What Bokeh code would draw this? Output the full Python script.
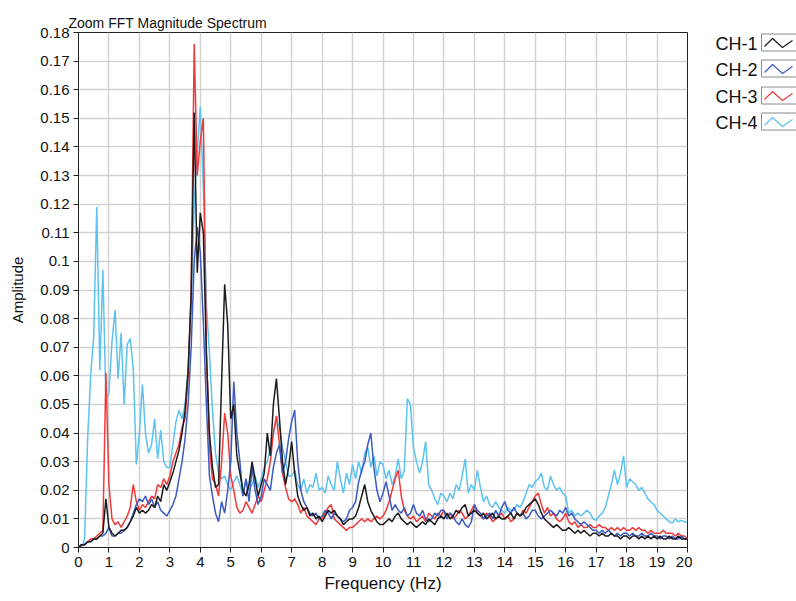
from bokeh.plotting import figure
from bokeh.models import FixedTicker, Range1d
from bokeh.layouts import row
from bokeh.core.properties import value
from bokeh.embed import file_html
from bokeh.resources import INLINE

# ---------------- data ----------------
freq = [round(i * 0.1, 1) for i in range(201)]  # Hz grid, 0.0 .. 20.0

ch1 = [
    0.000, 0.001, 0.001, 0.002, 0.002, 0.003, 0.003, 0.004, 0.005, 0.017,
    0.007, 0.005, 0.004, 0.005, 0.006, 0.006, 0.007, 0.009, 0.011, 0.014,
    0.012, 0.013, 0.012, 0.013, 0.015, 0.014, 0.018, 0.016, 0.022, 0.020,
    0.023, 0.026, 0.030, 0.034, 0.040, 0.048, 0.062, 0.088, 0.152, 0.096,
    0.117, 0.110, 0.068, 0.040, 0.028, 0.021, 0.022, 0.058, 0.092, 0.078,
    0.045, 0.050, 0.032, 0.026, 0.020, 0.018, 0.022, 0.030, 0.024, 0.018,
    0.022, 0.026, 0.040, 0.032, 0.050, 0.059, 0.045, 0.030, 0.022, 0.028,
    0.037, 0.026, 0.018, 0.015, 0.013, 0.014, 0.011, 0.012, 0.010, 0.011,
    0.009, 0.011, 0.013, 0.012, 0.013, 0.011, 0.010, 0.008, 0.009, 0.010,
    0.010, 0.011, 0.014, 0.018, 0.022, 0.016, 0.013, 0.011, 0.009, 0.008,
    0.008, 0.009, 0.010, 0.009, 0.011, 0.012, 0.010, 0.009, 0.008, 0.009,
    0.008, 0.007, 0.008, 0.009, 0.008, 0.010, 0.009, 0.008, 0.010, 0.011,
    0.010, 0.012, 0.010, 0.011, 0.013, 0.012, 0.014, 0.015, 0.011, 0.012,
    0.013, 0.012, 0.011, 0.012, 0.010, 0.011, 0.012, 0.010, 0.011, 0.010,
    0.010, 0.011, 0.012, 0.010, 0.012, 0.011, 0.012, 0.014, 0.015, 0.016,
    0.017, 0.015, 0.012, 0.010, 0.009, 0.008, 0.007, 0.008, 0.007, 0.006,
    0.006, 0.007, 0.006, 0.005, 0.006, 0.005, 0.006, 0.005, 0.004, 0.005,
    0.005, 0.004, 0.005, 0.004, 0.004, 0.005, 0.004, 0.004, 0.003, 0.004,
    0.004, 0.003, 0.004, 0.004, 0.003, 0.004, 0.003, 0.004, 0.003, 0.004,
    0.003, 0.004, 0.003, 0.003, 0.004, 0.003, 0.003, 0.004, 0.003, 0.003,
    0.003,
]

ch2 = [
    0.000, 0.001, 0.001, 0.002, 0.002, 0.003, 0.003, 0.004, 0.004, 0.005,
    0.007, 0.004, 0.004, 0.005, 0.005, 0.006, 0.007, 0.009, 0.012, 0.015,
    0.017, 0.016, 0.018, 0.015, 0.017, 0.014, 0.016, 0.013, 0.012, 0.011,
    0.013, 0.015, 0.018, 0.024, 0.030, 0.038, 0.050, 0.070, 0.100, 0.112,
    0.103, 0.079, 0.050, 0.025, 0.018, 0.012, 0.009, 0.016, 0.012, 0.020,
    0.030, 0.058, 0.040, 0.030, 0.018, 0.024, 0.016, 0.028, 0.020, 0.015,
    0.018, 0.024, 0.022, 0.020, 0.028, 0.033, 0.036, 0.026, 0.030, 0.038,
    0.044, 0.048, 0.030, 0.020, 0.016, 0.014, 0.012, 0.011, 0.012, 0.010,
    0.011, 0.013, 0.012, 0.010, 0.012, 0.011, 0.010, 0.009, 0.010, 0.013,
    0.014, 0.016, 0.023, 0.027, 0.030, 0.036, 0.040, 0.028, 0.020, 0.016,
    0.019, 0.023, 0.018, 0.013, 0.015, 0.013, 0.012, 0.014, 0.011, 0.012,
    0.015, 0.012, 0.011, 0.013, 0.010, 0.009, 0.010, 0.012, 0.011, 0.013,
    0.013, 0.010, 0.012, 0.011, 0.009, 0.008, 0.010, 0.008, 0.007, 0.009,
    0.015, 0.013, 0.012, 0.010, 0.011, 0.012, 0.010, 0.013, 0.011, 0.014,
    0.016, 0.013, 0.012, 0.014, 0.012, 0.011, 0.012, 0.010, 0.011, 0.013,
    0.013, 0.011, 0.010, 0.011, 0.012, 0.013, 0.012, 0.011, 0.013, 0.012,
    0.014, 0.011, 0.012, 0.010, 0.009, 0.008, 0.009, 0.008, 0.007, 0.006,
    0.006, 0.005, 0.006, 0.005, 0.006, 0.005, 0.004, 0.005, 0.004, 0.005,
    0.005, 0.004, 0.005, 0.004, 0.004, 0.005, 0.004, 0.004, 0.005, 0.004,
    0.004, 0.003, 0.004, 0.004, 0.003, 0.004, 0.003, 0.003, 0.004, 0.003,
    0.003,
]

ch3 = [
    0.000, 0.001, 0.001, 0.002, 0.003, 0.003, 0.004, 0.005, 0.006, 0.061,
    0.022, 0.010, 0.008, 0.009, 0.007, 0.009, 0.011, 0.014, 0.022, 0.016,
    0.013, 0.015, 0.014, 0.016, 0.018, 0.017, 0.022, 0.021, 0.024, 0.022,
    0.025, 0.030, 0.033, 0.036, 0.042, 0.045, 0.060, 0.090, 0.176, 0.130,
    0.142, 0.150, 0.068, 0.035, 0.024, 0.022, 0.018, 0.030, 0.047, 0.040,
    0.025, 0.020, 0.014, 0.012, 0.013, 0.016, 0.014, 0.012, 0.015, 0.018,
    0.016, 0.020, 0.024, 0.030, 0.040, 0.046, 0.036, 0.026, 0.021, 0.017,
    0.016, 0.017, 0.015, 0.012, 0.014, 0.011, 0.010, 0.009, 0.008, 0.010,
    0.010, 0.012, 0.014, 0.015, 0.010, 0.009, 0.008, 0.007, 0.006, 0.007,
    0.007, 0.008, 0.009, 0.010, 0.009, 0.010, 0.009, 0.010, 0.011, 0.010,
    0.011, 0.013, 0.016, 0.020, 0.024, 0.027, 0.018, 0.013, 0.011, 0.010,
    0.011, 0.009, 0.010, 0.011, 0.009, 0.012, 0.011, 0.010, 0.012, 0.011,
    0.013, 0.011, 0.012, 0.010, 0.011, 0.013, 0.012, 0.010, 0.011, 0.013,
    0.015, 0.012, 0.011, 0.010, 0.012, 0.011, 0.009, 0.010, 0.011, 0.012,
    0.010, 0.011, 0.009, 0.010, 0.012, 0.011, 0.013, 0.012, 0.014, 0.016,
    0.018, 0.019, 0.015, 0.012, 0.014, 0.011, 0.012, 0.010, 0.009, 0.010,
    0.012, 0.009, 0.008, 0.009, 0.007, 0.008, 0.007, 0.007, 0.008, 0.007,
    0.007, 0.008, 0.007, 0.007, 0.006, 0.007, 0.006, 0.007, 0.006, 0.007,
    0.006, 0.006, 0.007, 0.006, 0.007, 0.006, 0.006, 0.005, 0.006, 0.005,
    0.005, 0.005, 0.006, 0.005, 0.005, 0.005, 0.004, 0.005, 0.004, 0.004,
    0.003,
]

ch4 = [
    0.000, 0.000, 0.003, 0.038, 0.060, 0.074, 0.119, 0.062, 0.097, 0.052,
    0.054, 0.072, 0.083, 0.059, 0.075, 0.050, 0.071, 0.073, 0.062, 0.029,
    0.040, 0.057, 0.040, 0.033, 0.036, 0.045, 0.031, 0.041, 0.030, 0.028,
    0.028, 0.036, 0.044, 0.048, 0.045, 0.050, 0.062, 0.085, 0.120, 0.138,
    0.154, 0.126, 0.085, 0.068, 0.048, 0.033, 0.026, 0.024, 0.025, 0.022,
    0.020, 0.023, 0.025, 0.022, 0.018, 0.024, 0.020, 0.022, 0.025, 0.021,
    0.024, 0.028, 0.030, 0.035, 0.040, 0.045, 0.042, 0.035, 0.030, 0.025,
    0.025, 0.027, 0.022, 0.020, 0.024, 0.019, 0.022, 0.021, 0.026, 0.020,
    0.021, 0.019, 0.025, 0.022, 0.020, 0.030, 0.024, 0.019, 0.026, 0.022,
    0.029, 0.024, 0.030, 0.026, 0.033, 0.035, 0.028, 0.032, 0.025, 0.030,
    0.029, 0.024, 0.027, 0.022, 0.025, 0.031, 0.024, 0.027, 0.052, 0.050,
    0.035, 0.030, 0.026, 0.030, 0.037, 0.022, 0.020, 0.017, 0.015, 0.019,
    0.018, 0.016, 0.019, 0.017, 0.022, 0.020, 0.025, 0.031, 0.019, 0.022,
    0.020, 0.027, 0.021, 0.016, 0.018, 0.015, 0.014, 0.016, 0.014, 0.013,
    0.012, 0.014, 0.013, 0.013, 0.015, 0.014, 0.016, 0.019, 0.022, 0.021,
    0.023, 0.024, 0.026, 0.021, 0.020, 0.025, 0.022, 0.020, 0.021, 0.019,
    0.018, 0.012, 0.013, 0.011, 0.012, 0.011, 0.012, 0.013, 0.012, 0.010,
    0.0095, 0.011, 0.012, 0.014, 0.018, 0.022, 0.027, 0.022, 0.026, 0.032,
    0.021, 0.024, 0.023, 0.022, 0.020, 0.021, 0.019, 0.017, 0.016, 0.015,
    0.013, 0.012, 0.011, 0.010, 0.009, 0.0085, 0.010, 0.009, 0.0095, 0.009,
    0.009,
]

series_names = ["CH-1", "CH-2", "CH-3", "CH-4"]
series_colors = ["#1c1c1c", "#3b5bc2", "#f03a3a", "#5cc3f0"]

x_ticks = list(range(0, 21))
y_ticks = [0, 0.01, 0.02, 0.03, 0.04, 0.05, 0.06, 0.07, 0.08, 0.09,
           0.1, 0.11, 0.12, 0.13, 0.14, 0.15, 0.16, 0.17, 0.18]
y_tick_labels = ["0", "0.01", "0.02", "0.03", "0.04", "0.05", "0.06", "0.07",
                 "0.08", "0.09", "0.1", "0.11", "0.12", "0.13", "0.14", "0.15",
                 "0.16", "0.17", "0.18"]

FONT = "Liberation Sans"

# ---------------- main plot ----------------
p = figure(width=692, height=597, output_backend="svg", toolbar_location=None,
           x_range=Range1d(0, 20), y_range=Range1d(0, 0.18),
           min_border_left=78, min_border_right=5, min_border_top=32,
           min_border_bottom=50)

p.title.text = "Zoom FFT Magnitude Spectrum"
p.title.text_font = FONT
p.title.text_font_size = "14px"
p.title.text_font_style = "normal"
p.title.text_color = "#111111"
p.title.align = "left"
p.title.offset = -10
p.title.standoff = 4

p.outline_line_color = "#222222"
p.outline_line_width = 1

for ax in (p.xaxis[0], p.yaxis[0]):
    ax.major_label_text_font = FONT
    ax.major_label_text_font_size = "15px"
    ax.major_label_text_color = "#111111"
    ax.axis_label_text_font = FONT
    ax.axis_label_text_font_style = "normal"
    ax.axis_label_text_color = "#111111"
    ax.axis_line_color = "#222222"
    ax.major_tick_line_color = "#222222"
    ax.major_tick_out = 5
    ax.major_tick_in = 0
    ax.minor_tick_line_color = None
    ax.major_label_standoff = 4

p.xaxis.axis_label_text_font_size = "17px"
p.xaxis.axis_label_standoff = 4
p.yaxis.axis_label_text_font_size = "15px"
p.yaxis.axis_label_standoff = 11

p.xaxis.ticker = FixedTicker(ticks=x_ticks)
p.yaxis.ticker = FixedTicker(ticks=y_ticks)
p.yaxis.major_label_overrides = {t: s for t, s in zip(y_ticks, y_tick_labels)}
p.xaxis.axis_label = "Frequency (Hz)"
p.yaxis.axis_label = "Amplitude"

p.xgrid.ticker = FixedTicker(ticks=x_ticks)
p.ygrid.ticker = FixedTicker(ticks=y_ticks)
p.grid.grid_line_color = "#d2d2d2"
p.grid.grid_line_width = 1.5

data = {"CH-1": ch1, "CH-2": ch2, "CH-3": ch3, "CH-4": ch4}
draw_order = ["CH-4", "CH-3", "CH-2", "CH-1"]
for name in draw_order:
    c = series_colors[series_names.index(name)]
    p.line(freq, data[name], line_color=c, line_width=1.5)

# ---------------- legend panel ----------------
# frame of this panel is aligned with the main plot's frame (page y 32..547)
leg = figure(width=104, height=597, output_backend="svg", toolbar_location=None,
             x_range=Range1d(0, 104), y_range=Range1d(547, 32),
             x_axis_location=None, y_axis_location=None,
             min_border_left=0, min_border_right=0,
             min_border_top=32, min_border_bottom=50)
leg.outline_line_color = None
leg.grid.visible = False

row_y = [43, 69, 96, 122]
leg.text(x=[65] * 4, y=row_y, text=series_names, text_align="right",
         text_baseline="middle", text_font=value(FONT), text_font_size="18px",
         text_color="#111111")
leg.rect(x=[87] * 4, y=[yy - 1 for yy in row_y], width=36, height=17,
         fill_color="white", line_color="#8a8a8a", line_width=1)
for yy, c in zip(row_y, series_colors):
    leg.line([72, 80, 90, 100], [yy + 3, yy - 5, yy + 4, yy - 3],
             line_color=c, line_width=1.2)

layout = row(p, leg)
open("out.html", "w").write(file_html(layout, INLINE))
